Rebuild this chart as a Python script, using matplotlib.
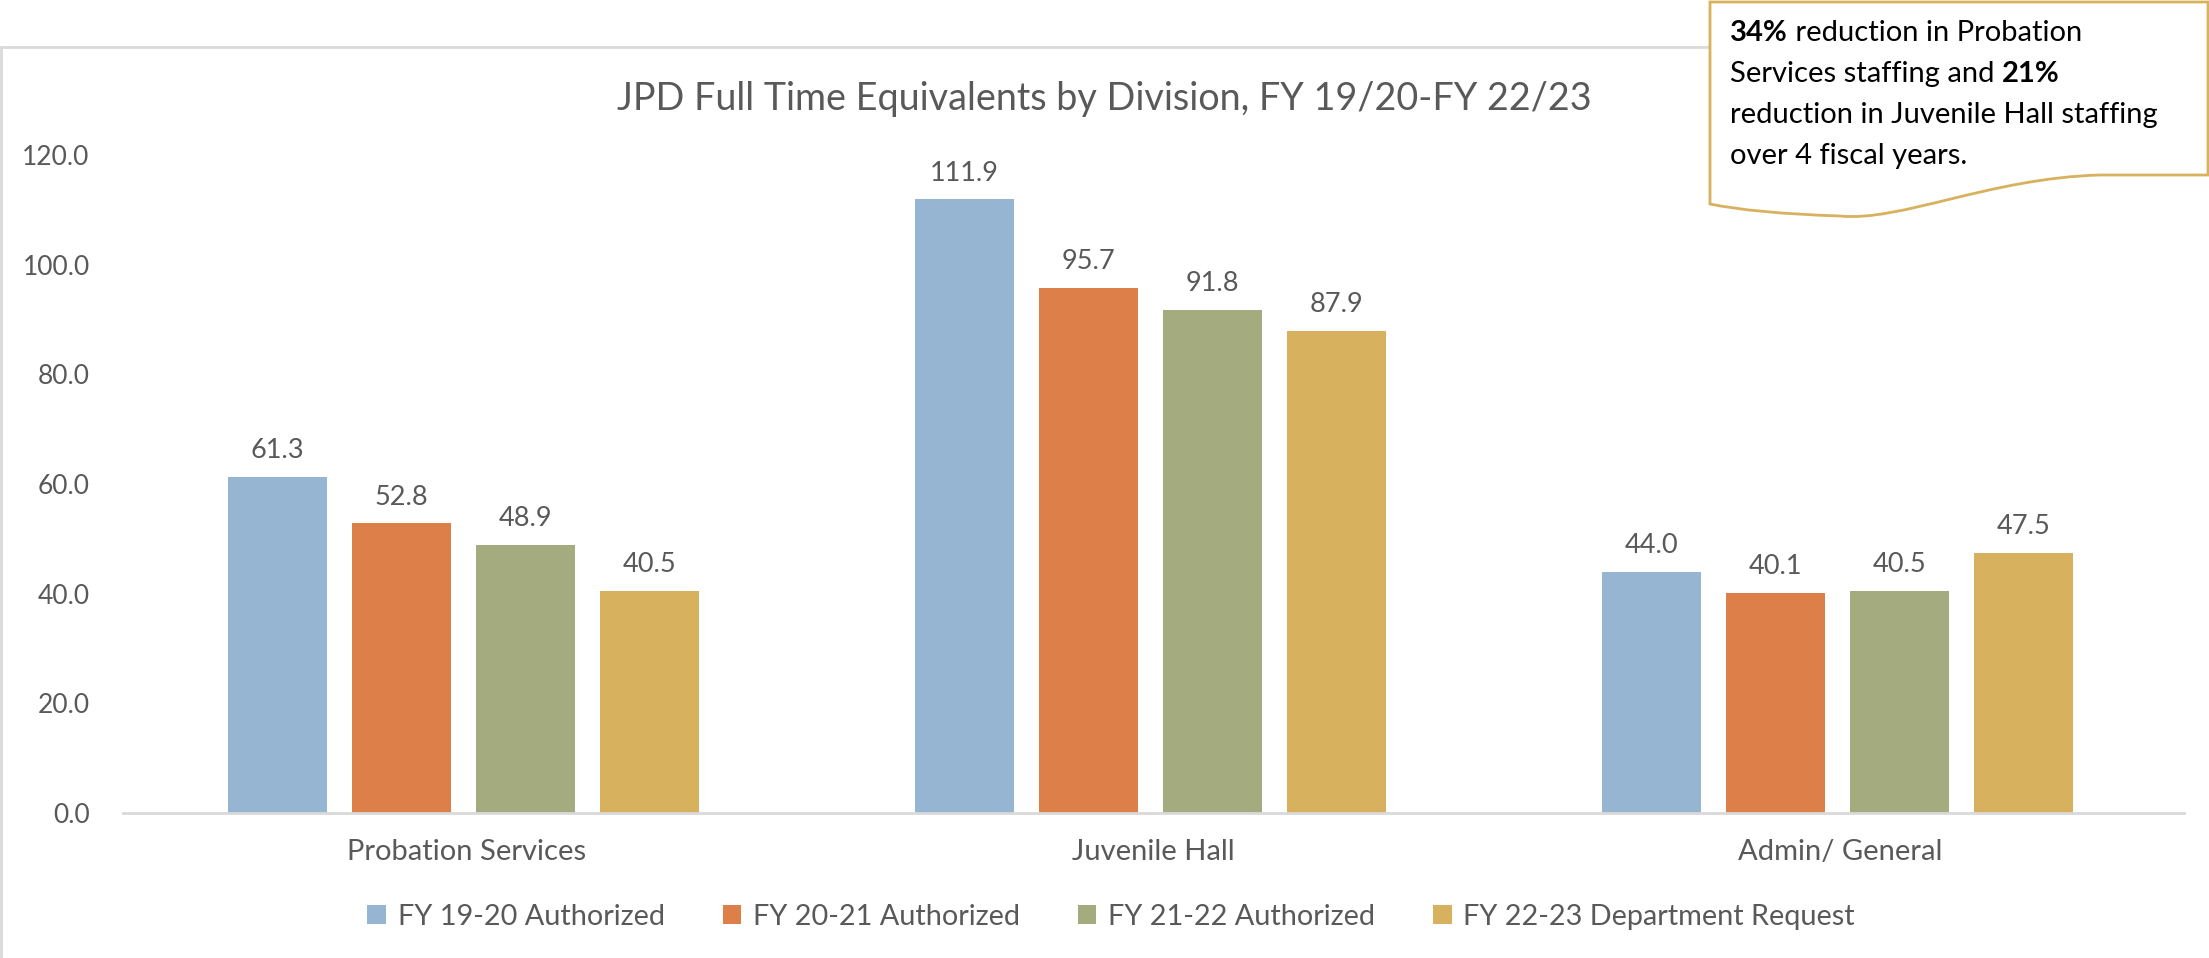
import matplotlib.pyplot as plt
import numpy as np
from matplotlib.patches import Rectangle, PathPatch
from matplotlib.path import Path

plt.rcParams['font.family'] = ['Lato', 'DejaVu Sans']

# data
divisions = ["Probation Services", "Juvenile Hall", "Admin/ General"]
series = ["FY 19-20 Authorized", "FY 20-21 Authorized",
          "FY 21-22 Authorized", "FY 22-23 Department Request"]
fy1920 = [61.3, 111.9, 44.0]
fy2021 = [52.8, 95.7, 40.1]
fy2122 = [48.9, 91.8, 40.5]
fy2223 = [40.5, 87.9, 47.5]
colors = ["#95B5D3", "#DD7F48", "#A4AB7F", "#D8B15E"]

TXT = "#595959"
W, H = 2209, 958

fig = plt.figure(figsize=(W / 100, H / 100), dpi=100)

# chart frame
fig.patches.append(Rectangle((1 / W, -0.01), 1.2, 1 - 47 / H + 0.01,
                             transform=fig.transFigure, fill=False,
                             edgecolor="#D9D9D9", linewidth=2, zorder=0))

ax = fig.add_axes([123 / W, 1 - 813 / H, (2184 - 123) / W, (813 - 155) / H])

x = np.arange(len(divisions))
width = 0.144
step = 0.1805
all_vals = [fy1920, fy2021, fy2122, fy2223]
for i, (vals, name, c) in enumerate(zip(all_vals, series, colors)):
    pos = x + (i - 1.5) * step - 0.004
    ax.bar(pos, vals, width, color=c, label=name, zorder=2)
    for px, v in zip(pos, vals):
        ax.annotate(f"{v:.1f}", (px, v), xytext=(0, 10), textcoords="offset points",
                    ha="center", va="bottom", fontsize=19.5, color=TXT)

ax.set_xlim(-0.5, 2.5)
ax.set_ylim(0, 120)
ax.set_yticks(np.arange(0, 121, 20))
ax.set_yticklabels([f"{t:.1f}" for t in np.arange(0, 121, 20)])
ax.set_xticks(x)
ax.set_xticklabels(divisions)
ax.tick_params(axis="both", length=0, labelsize=19, labelcolor=TXT)
ax.tick_params(axis="x", labelsize=21)
ax.tick_params(axis="y", pad=24)
ax.tick_params(axis="x", pad=19)
for s in ["top", "right", "left"]:
    ax.spines[s].set_visible(False)
ax.spines["bottom"].set_color("#D9D9D9")
ax.spines["bottom"].set_linewidth(2)

fig.text(0.5, 1 - 99 / H, "JPD Full Time Equivalents by Division, FY 19/20-FY 22/23",
         ha="center", va="center", fontsize=27.2, color=TXT)

fig.legend(loc="center", bbox_to_anchor=(0.503, 1 - 917 / H), ncol=4, frameon=False,
           fontsize=20.8, labelcolor=TXT, handlelength=0.65, handleheight=0.65,
           handletextpad=0.4, columnspacing=2.0)

# callout box with wavy bottom
def fp(px, py):
    return (px / W, 1 - py / H)

verts = [fp(1710, 2), fp(2208, 2), fp(2208, 175), fp(2100, 175),
         fp(1990, 178), fp(1900, 222), fp(1840, 216),
         fp(1780, 214), fp(1740, 210), fp(1710, 204), fp(1710, 2)]
codes = [Path.MOVETO, Path.LINETO, Path.LINETO, Path.LINETO,
         Path.CURVE4, Path.CURVE4, Path.CURVE4,
         Path.CURVE4, Path.CURVE4, Path.CURVE4, Path.CLOSEPOLY]
fig.patches.append(PathPatch(Path(verts, codes), transform=fig.transFigure,
                             facecolor="white", edgecolor="#D8B15E", linewidth=2, zorder=5))

lines = [[("34%", "bold"), (" reduction in Probation", "normal")],
         [("Services staffing and ", "normal"), ("21%", "bold")],
         [("reduction in Juvenile Hall staffing", "normal")],
         [("over 4 fiscal years.", "normal")]]
r = fig.canvas.get_renderer()
y0 = 33
for line in lines:
    xp = 1730
    for txt, wt in line:
        t = fig.text(xp / W, 1 - y0 / H, txt, fontsize=21, fontweight=wt,
                     color="black", ha="left", va="center", zorder=6)
        xp += t.get_window_extent(renderer=r).width
    y0 += 41

fig.savefig("out.png", dpi=100)
